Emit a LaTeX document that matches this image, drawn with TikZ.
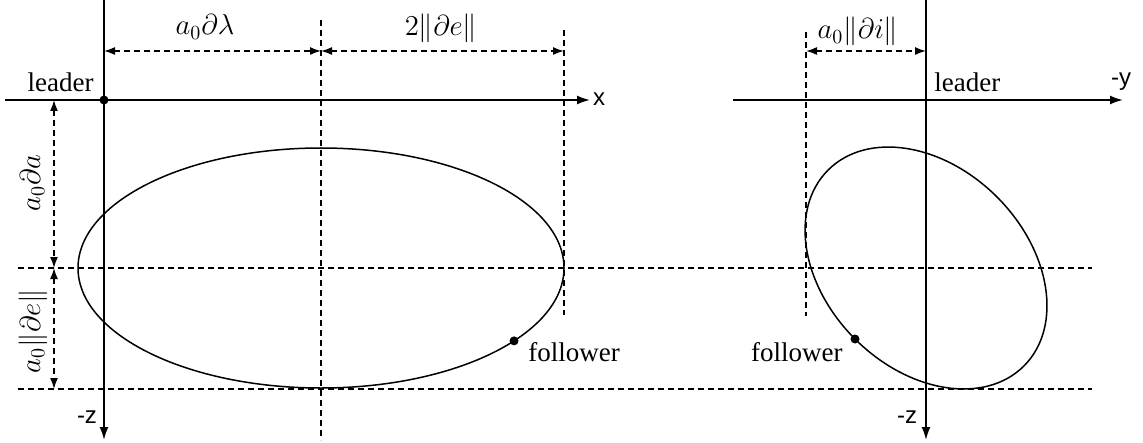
\documentclass[tikz,border=0pt]{standalone}
\usepackage{amsmath,amssymb}
\usepackage[no-math]{fontspec}
\setmainfont{Liberation Serif}
\newfontfamily\axisfont{Liberation Sans}
\usepackage{tikz}
\usetikzlibrary{arrows.meta,calc}

\begin{document}
\begin{tikzpicture}[
    x=0.5pt, y=-0.5pt,
    axis/.style={line width=0.9pt, -{Latex[length=6.5pt,width=4.5pt]}},
    guide/.style={line width=0.75pt, dash pattern=on 3pt off 2pt},
    dimline/.style={guide, {Latex[length=5.5pt,width=4pt]}-{Latex[length=5.5pt,width=4pt]}},
    orbit/.style={line width=0.75pt},
    sat/.style={circle, fill=black, inner sep=0pt, minimum size=4.5pt},
    lbl/.style={inner sep=1pt, font=\fontsize{13.5}{16}\selectfont},
    mlbl/.style={inner sep=1pt, font=\fontsize{14.4}{17}\selectfont},
    axlbl/.style={inner sep=1pt, font=\axisfont\fontsize{12}{14}\selectfont}
]
\useasboundingbox (0,0) rectangle (1143,443);

% left view
\coordinate (L) at (104,100);
\coordinate (E) at (321,268);
\coordinate (xs) at (5,100);
\coordinate (xe) at (590,100);
\coordinate (zs) at (104,0);
\coordinate (ze) at (104,440);
\coordinate (ct) at (321,20);
\coordinate (cb) at (321,440);
\coordinate (et) at (564,30);
\coordinate (eb) at (564,315);
\coordinate (d1) at (104,51);
\coordinate (d2) at (321,51);
\coordinate (d3) at (564,51);
\coordinate (v1) at (54,100);
\coordinate (v2) at (54,268);
\coordinate (v3) at (54,389);
\coordinate (h1s) at (18,268);
\coordinate (h1e) at (1092,268);
\coordinate (h2s) at (18,389);
\coordinate (h2e) at (1092,389);

% right view
\coordinate (R) at (926,100);
\coordinate (C) at (926,268);
\coordinate (ys) at (733,100);
\coordinate (ye) at (1123,100);
\coordinate (rzs) at (926,0);
\coordinate (rze) at (926,440);
\coordinate (it) at (806,32);
\coordinate (ib) at (806,316);
\coordinate (i1) at (806,51);
\coordinate (i2) at (926,51);

\draw[guide] (ct) -- (cb);
\draw[guide] (et) -- (eb);
\draw[guide] (it) -- (ib);
\draw[guide] (h1s) -- (h1e);
\draw[guide] (h2s) -- (h2e);

\draw[orbit] (E) ellipse [x radius=243, y radius=120];
\draw[orbit, rotate around={-45:(C)}] (C) ellipse [x radius=138.5, y radius=100.4];

\draw[axis] (xs) -- (xe);
\draw[axis] (zs) -- (ze);
\draw[axis] (ys) -- (ye);
\draw[axis] (rzs) -- (rze);

\draw[dimline] (d1) -- (d2);
\draw[dimline] (d2) -- (d3);
\draw[dimline] (v1) -- (v2);
\draw[dimline] (v2) -- (v3);
\draw[dimline] (i1) -- (i2);

\node[sat] (lead) at (L) {};
\node[sat] (fol1) at ($(E)+(37.4:243 and 120)$) {};
\node[sat] (fol2) at ($(C)+(-71,71)$) {};

\node[lbl, anchor=base east] (leadtxt1) at (96,92) {leader};
\node[lbl, anchor=base west] (leadtxt2) at (932,92) {leader};
\node[lbl, anchor=west] (foltxt1) at (526,352) {follower};
\node[lbl, anchor=east] (foltxt2) at (845,352) {follower};

\node[mlbl, anchor=base] (dlam) at (205,35) {$a_0\partial\lambda$};
\node[mlbl, anchor=base] (de) at (441,36) {$2\|\partial e\|$};
\node[mlbl, anchor=base] (di) at (858,39) {$a_0\|\partial i\|$};
\node[mlbl, rotate=90, anchor=base] (da) at (40,183) {$a_0\partial a$};
\node[mlbl, rotate=90, anchor=base] (dea) at (40,331) {$a_0\|\partial e\|$};

\node[axlbl] (xl) at (599,99) {x};
\node[axlbl] (yl) at (1121,82) {-y};
\node[axlbl] (zl1) at (87,417) {-z};
\node[axlbl] (zl2) at (907,417) {-z};
\end{tikzpicture}
\end{document}
